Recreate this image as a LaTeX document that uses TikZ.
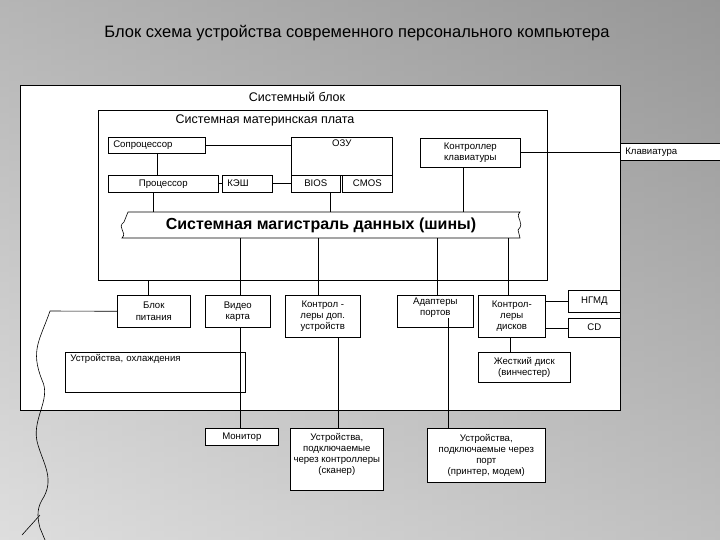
\documentclass[tikz,border=0pt]{standalone}
\usepackage{fontspec}
\setmainfont{Liberation Sans}
\begin{document}
\begin{tikzpicture}[x=1pt,y=-1pt,
  bx/.style={draw,fill=white,line width=0.6pt,font=\fontsize{9.6}{11.2}\selectfont,align=center,inner sep=1pt},
  lt/.style={inner xsep=5pt},
  sl/.style={text height=7pt,text depth=2pt},
  ln/.style={line width=0.6pt}]
\useasboundingbox (0,0) rectangle (720,540);
\shade[left color=black!18, right color=black!38] (0,0) rectangle (720,540);
\shade[top color=black!45, bottom color=black!5, opacity=0.4] (0,0) rectangle (720,540);
\node[font=\fontsize{16.5}{19}\selectfont] (title) at (357,33) {Блок схема устройства современного персонального компьютера};
% outer
\draw[fill=white,ln] (20,85) rectangle (620,410);
\node[font=\fontsize{12.5}{14}\selectfont] (sb) at (297,97) {Системный блок};
\draw[ln] (98,110) rectangle (547,280);
\node[font=\fontsize{12.5}{14}\selectfont] (mb) at (265,120) {Системная материнская плата};
% nodes
\node[bx,sl,lt,minimum width=97,minimum height=16,anchor=north west,text width=87,align=left] (cop) at (108,137) {Сопроцессор};
\node[bx,minimum width=101,minimum height=38,anchor=north west,text height=7pt,text depth=27pt] (ram) at (291,137) {ОЗУ};
\node[bx,sl,minimum width=49,minimum height=17,anchor=north west] (bios) at (291,175) {BIOS};
\node[bx,sl,minimum width=50,minimum height=17,anchor=north west] (cmos) at (342,175) {CMOS};
\node[bx,sl,minimum width=110,minimum height=17,anchor=north west] (cpu) at (108,175) {Процессор};
\node[bx,sl,lt,minimum width=50,minimum height=17,anchor=north west,text width=40,align=left] (cache) at (222,175) {КЭШ};
\node[bx,minimum width=100,minimum height=29,anchor=north west] (kc) at (420,138) {Контроллер\\клавиатуры};
\node[bx,sl,lt,minimum width=100,minimum height=17,anchor=north west,text width=90,align=left] (kb) at (620,143) {Клавиатура};
\draw[ln] (cop.east) -- (ram.west|-cop.east);
\draw[ln] (cop.south) -- (cpu.north-|cop.south);
\draw[ln] (cpu) -- (cache);
\draw[ln] (cache) -- (bios);
\draw[ln] (kc.east) -- (kb.west|-kc.east);
% bus
\draw[fill=white,ln] (128,212) -- (520,212) .. controls (514,218) and (526,222) .. (518,230) -- (520,238)
  -- (122,238) .. controls (128,232) and (116,228) .. (124,222) -- cycle;
\node[font=\bfseries\fontsize{16}{18}\selectfont] (bus) at (321,225) {Системная магистраль данных (шины)};
\coordinate (busT1) at (153,212); \coordinate (busT2) at (330,212); \coordinate (busT3) at (463,212);
\draw[ln] (cpu.south-|busT1) -- (busT1);
\draw[ln] (bios.south-|busT2) -- (busT2);
\draw[ln] (kc.south-|busT3) -- (busT3);
% lower boxes
\node[bx,minimum width=73,minimum height=32,anchor=north west] (psu) at (117,295) {Блок\\питания};
\node[bx,minimum width=65,minimum height=32,anchor=north west] (vid) at (205,295) {Видео\\карта};
\node[bx,minimum width=75,minimum height=42,anchor=north west] (cdev) at (285,295) {Контрол -\\леры доп.\\устройств};
\node[bx,minimum width=76,minimum height=32,anchor=north west,text depth=9] (ports) at (397,295) {Адаптеры\\портов};
\node[bx,minimum width=67,minimum height=42,anchor=north west] (dc) at (478,295) {Контрол-\\леры\\дисков};
\node[bx,sl,minimum width=52,minimum height=22,anchor=north west] (fd) at (568,290) {НГМД};
\node[bx,sl,minimum width=52,minimum height=19,anchor=north west] (cd) at (568,318) {CD};
\node[bx,minimum width=92,minimum height=30,anchor=north west] (hd) at (478,352) {Жесткий диск\\(винчестер)};
\node[bx,lt,minimum width=180,minimum height=40,anchor=north west,text width=170,align=left,text height=7pt,text depth=28pt] (cool) at (65,352) {Устройства, охлаждения};
\node[bx,sl,minimum width=73,minimum height=17,anchor=north west] (mon) at (205,428) {Монитор};
\node[bx,minimum width=93,minimum height=62,anchor=north west,text depth=12] (scan) at (290,428) {Устройства,\\подключаемые\\через контроллеры\\(сканер)};
\node[bx,minimum width=118,minimum height=54,anchor=north west] (prn) at (427,428) {Устройства,\\подключаемые через\\порт\\(принтер, модем)};
% bus down lines
\coordinate (mbB) at (148,280);
\draw[ln] (mbB) -- (mbB|-psu.north);
\draw[ln] (240,238) -- (vid.north-|240,0);
\draw[ln] (318,238) -- (cdev.north-|318,0);
\draw[ln] (437,238) -- (ports.north-|437,0);
\draw[ln] (508,238) -- (dc.north-|508,0);
\draw[ln] (dc.east|-fd.west) -- (fd.west);
\draw[ln] (dc.east|-cd.west) -- (cd.west);
\draw[ln] (dc.south-|510,0) -- (hd.north-|510,0);
\draw[ln] (vid.south-|240,0) -- (mon.north-|240,0);
\draw[ln] (cdev.south-|338,0) -- (scan.north-|338,0);
\draw[ln] (448,318) -- (prn.north-|448,0);
% power cord
\coordinate (cord0) at (50,311);
\draw[ln] (psu.west) -- (cord0) .. controls (40,340) and (30,350) .. (42,380)
  .. controls (52,400) and (30,420) .. (38,445) .. controls (44,465) and (55,480) .. (42,500)
  .. controls (36,510) and (38,520) .. (40,528) -- (45,540);
\draw[ln] (40,515) -- (22,535);
\end{tikzpicture}
\end{document}
